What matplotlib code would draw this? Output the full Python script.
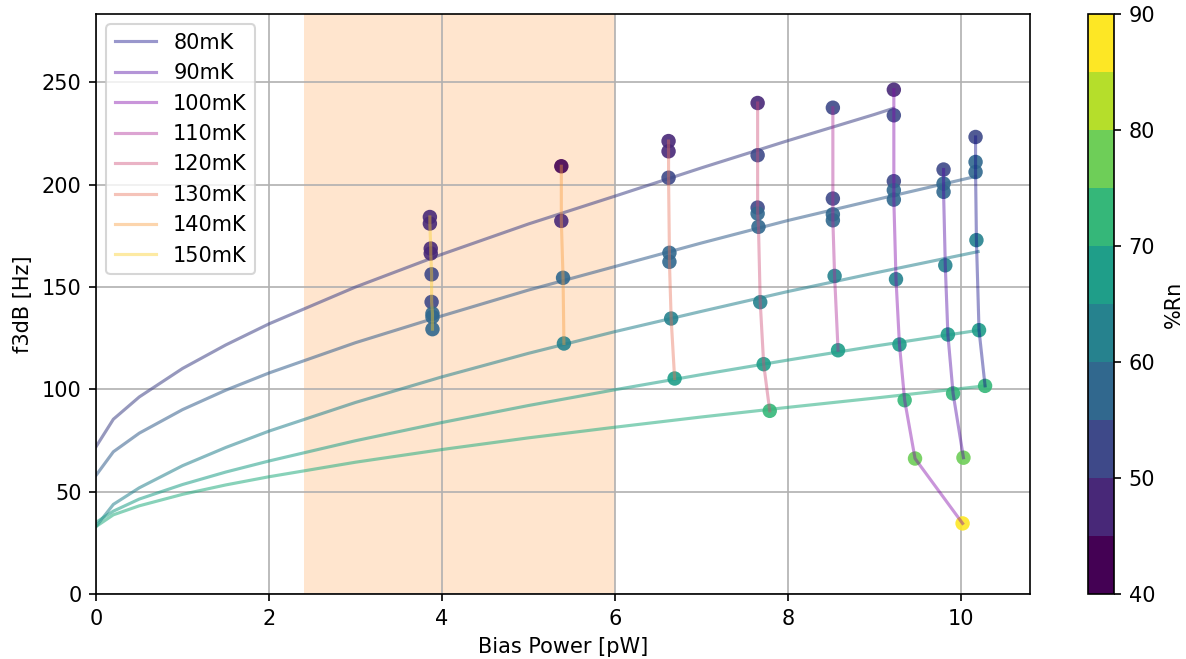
import matplotlib
matplotlib.use("Agg")
import matplotlib.pyplot as plt
import numpy as np

# temperatures and the measured bias points (bias power, f3dB, %Rn)
temps = ["80mK", "90mK", "100mK", "110mK", "120mK", "130mK", "140mK", "150mK"]

p_80 = [10.17, 10.17, 10.17, 10.18, 10.21, 10.28]
f_80 = [223.3, 211.1, 206.2, 172.9, 128.9, 101.7]
rn_80 = [52, 56, 57, 63, 68, 73]

p_90 = [9.80, 9.80, 9.80, 9.82, 9.85, 9.91, 10.03]
f_90 = [207.4, 200.5, 196.5, 160.6, 126.8, 98.0, 66.6]
rn_90 = [52, 56, 57, 62, 67, 72, 78]

p_100 = [9.225, 9.225, 9.225, 9.225, 9.225, 9.25, 9.29, 9.35, 9.47, 10.02]
f_100 = [246.4, 233.9, 201.7, 197.3, 192.7, 153.8, 121.9, 94.7, 66.2, 34.5]
rn_100 = [47, 51, 53, 56, 57, 62, 67, 72, 78, 88]

p_110 = [8.52, 8.52, 8.52, 8.52, 8.54, 8.58]
f_110 = [237.6, 193.2, 185.5, 182.6, 155.4, 119.1]
rn_110 = [51, 54, 56, 57, 62, 68]

p_120 = [7.65, 7.65, 7.65, 7.65, 7.66, 7.68, 7.72, 7.79]
f_120 = [239.9, 214.4, 188.8, 185.9, 179.4, 142.6, 112.3, 89.5]
rn_120 = [47, 51, 54, 56, 57, 63, 68, 72]

p_130 = [6.62, 6.62, 6.62, 6.63, 6.63, 6.65, 6.69]
f_130 = [221.3, 216.3, 203.4, 166.7, 162.3, 134.6, 105.3]
rn_130 = [46, 47, 51, 56, 58, 63, 68]

p_140 = [5.38, 5.38, 5.40, 5.41]
f_140 = [209.0, 182.3, 154.5, 122.4]
rn_140 = [44, 48, 57, 63]

p_150 = [3.86, 3.86, 3.87, 3.87, 3.88, 3.88, 3.89, 3.89, 3.89]
f_150 = [184.2, 181.0, 168.8, 166.4, 156.2, 142.7, 137.0, 135.4, 129.4]
rn_150 = [46, 47, 48, 49, 51, 54, 56, 57, 59]

powers = [p_80, p_90, p_100, p_110, p_120, p_130, p_140, p_150]
f3dbs = [f_80, f_90, f_100, f_110, f_120, f_130, f_140, f_150]
rns = [rn_80, rn_90, rn_100, rn_110, rn_120, rn_130, rn_140, rn_150]

# model curves at constant %Rn
curve_rn = [50, 55, 62, 68, 71]
cx_1 = [0, 0.2, 0.5, 1, 1.5, 2, 3, 4, 5, 6, 7, 8, 9, 9.22]
cf_1 = [72, 85.4, 96.3, 110.2, 121.7, 132, 150, 166, 180.8, 194.4, 208.2, 221.5, 234.3, 237.3]
cx_2 = [0, 0.2, 0.5, 1, 1.5, 2, 3, 4, 5, 6, 7, 8, 9, 10.17]
cf_2 = [58, 69.5, 78.6, 90.1, 99.6, 108, 122.8, 135.9, 148.5, 160, 171.5, 182.5, 192.5, 204]
cx_3 = [0, 0.2, 0.5, 1, 1.5, 2, 3, 4, 5, 6, 7, 8, 9, 10.2]
cf_3 = [33, 43.8, 51.9, 62.7, 71.6, 79.6, 93.6, 106.1, 117.6, 128.2, 138.1, 147.8, 156.8, 167.3]
cx_4 = [0, 0.2, 0.5, 1, 1.5, 2, 3, 4, 5, 6, 7, 8, 9, 10.21]
cf_4 = [35, 40.5, 46.4, 53.5, 59.6, 65, 74.9, 83.8, 92.1, 99.8, 107.2, 114.3, 121.1, 128.9]
cx_5 = [0, 0.2, 0.5, 1, 1.5, 2, 3, 4, 5, 6, 7, 8, 9, 10.28]
cf_5 = [33, 38.7, 43.1, 48.7, 53.3, 57.3, 64.4, 70.6, 76.3, 81.5, 86.5, 91.2, 95.7, 101.7]

curves_x = [cx_1, cx_2, cx_3, cx_4, cx_5]
curves_f = [cf_1, cf_2, cf_3, cf_4, cf_5]

span_lo, span_hi = 2.4, 6.0

dpi = 150
fig = plt.figure(figsize=(1186 / dpi, 659 / dpi), dpi=dpi)
ax = fig.add_axes([0.081, 0.0986, 0.7875, 0.8802])
cax = fig.add_axes([0.9174, 0.0986, 0.0219, 0.8802])

ax.axvspan(span_lo, span_hi, color="C1", alpha=0.2, lw=0)

vir = plt.get_cmap("viridis")
for x, f, rn in zip(curves_x, curves_f, curve_rn):
    ax.plot(x, f, color=vir((rn - 40) / 50), alpha=0.55, lw=1.5)

cmap10 = plt.get_cmap("viridis", 10)
all_p = np.concatenate(powers)
all_f = np.concatenate(f3dbs)
all_rn = np.concatenate(rns)
sc = ax.scatter(all_p, all_f, c=all_rn, cmap=cmap10, vmin=40, vmax=90,
                s=48, alpha=0.9, lw=0, zorder=2.5)

tcols = plt.get_cmap("plasma")(np.linspace(0, 0.9, len(temps)))
for p, f, lab, col in zip(powers, f3dbs, temps, tcols):
    ax.plot(p, f, color=col, alpha=0.42, lw=1.5, label=lab, zorder=3)

ax.set_xlim(0, 10.8)
ax.set_ylim(0, 283.4)
ax.grid(True)
ax.set_xlabel("Bias Power [pW]")
ax.set_ylabel("f3dB [Hz]")
ax.legend(loc="upper left")

cb = fig.colorbar(sc, cax=cax)
cb.solids.set_alpha(1)
cb.set_label("%Rn")

fig.savefig("out.png", dpi=dpi)
